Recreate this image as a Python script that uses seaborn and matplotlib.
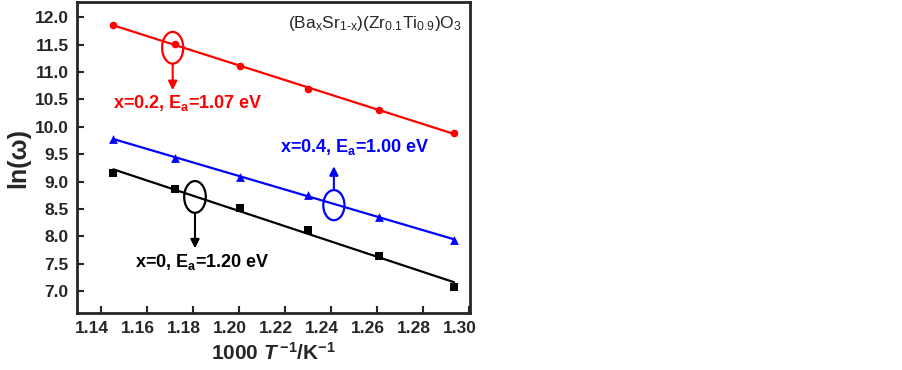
import numpy as np
import pandas as pd
import seaborn as sns
import matplotlib
matplotlib.use("Agg")
import matplotlib.pyplot as plt
from matplotlib.patches import Ellipse
from matplotlib.transforms import ScaledTranslation

# measurement temperatures (K) -> 1000/T
temps = [873, 853, 833, 813, 793, 773]
inv_t = [1000.0 / t for t in temps]

ln_w_x0 = [9.15, 8.86, 8.51, 8.11, 7.65, 7.08]
ln_w_x02 = [11.86, 11.51, 11.105, 10.70, 10.30, 9.89]
ln_w_x04 = [9.78, 9.44, 9.09, 8.75, 8.35, 7.94]

labels = ["x=0, E$_{\\mathbf{a}}$=1.20 eV",
          "x=0.2, E$_{\\mathbf{a}}$=1.07 eV",
          "x=0.4, E$_{\\mathbf{a}}$=1.00 eV"]
colors = ["black", "red", "blue"]
markers = ["s", "o", "^"]
msizes = [30, 30, 40]

sns.set_style("ticks")
plt.rcParams["font.family"] = ["Liberation Sans", "DejaVu Sans"]
plt.rcParams["mathtext.fontset"] = "custom"
plt.rcParams["mathtext.rm"] = "Liberation Sans"
plt.rcParams["mathtext.it"] = "Liberation Sans:italic:bold"
plt.rcParams["mathtext.bf"] = "Liberation Sans:bold"
plt.rcParams["axes.unicode_minus"] = False

df = pd.DataFrame({"x": inv_t * 3,
                   "y": ln_w_x0 + ln_w_x02 + ln_w_x04,
                   "sample": sum([[l] * len(inv_t) for l in labels], [])})

fig = plt.figure(figsize=(9.03, 3.70), dpi=100)
ax = fig.add_axes([0.0853, 0.154, 0.4352, 0.8406])

for lab, c, m, ms in zip(labels, colors, markers, msizes):
    sub = df[df["sample"] == lab]
    sns.regplot(data=sub, x="x", y="y", ax=ax, ci=None, color=c, marker=m,
                scatter_kws={"s": ms, "linewidths": 0, "alpha": 1},
                line_kws={"lw": 1.6})

ax.set_xlim(1.1297, 1.3006)
ax.set_ylim(6.6, 12.28)
ax.set_xticks(np.arange(1.14, 1.301, 0.02))
ax.set_yticks(np.arange(7.0, 12.01, 0.5))
ax.set_xticklabels([f"{v:.2f}" for v in np.arange(1.14, 1.301, 0.02)])
ax.set_yticklabels([f"{v:.1f}" for v in np.arange(7.0, 12.01, 0.5)])
ax.tick_params(direction="in", length=5, width=1.5, labelsize=12.5, pad=6)
for lbl in ax.get_xticklabels() + ax.get_yticklabels():
    lbl.set_fontweight("bold")
for lbl in ax.get_xticklabels():
    lbl.set_transform(lbl.get_transform() + ScaledTranslation(-0.09, 0, fig.dpi_scale_trans))
for s in ax.spines.values():
    s.set_linewidth(2)
    s.set_visible(True)

ax.set_xlabel("1000 $\\mathit{T}^{\\,\\mathbf{-1}}$/K$^{\\mathbf{-1}}$",
              fontsize=15, fontweight="bold", labelpad=4)
ax.set_ylabel("ln(ω)", fontsize=18, fontweight="bold", labelpad=3)

# ellipse + arrow annotations
ann = [  # (cx, cy, w, h, arrow from y, arrow to y, color)
    (1.1713, 11.444, 0.0092, 0.58, 11.15, 10.67, "red"),
    (1.2414, 8.57, 0.0092, 0.55, 8.85, 9.28, "blue"),
    (1.1810, 8.72, 0.0094, 0.58, 8.43, 7.78, "black"),
]
for cx, cy, w, h, y0, y1, c in ann:
    ax.add_patch(Ellipse((cx, cy), w, h, fill=False, ec=c, lw=1.6))
    ax.annotate("", xy=(cx, y1), xytext=(cx, y0),
                arrowprops=dict(arrowstyle="-|>", color=c, lw=1.5,
                                mutation_scale=13, shrinkA=0, shrinkB=0))

ax.text(1.1452, 10.43, labels[1], color="red", fontsize=13, fontweight="bold", va="center")
ax.text(1.2180, 9.63, labels[2], color="blue", fontsize=13, fontweight="bold", va="center")
ax.text(1.1549, 7.53, labels[0], color="black", fontsize=13, fontweight="bold", va="center")
ax.text(1.2970, 11.88, "$\\mathregular{(Ba_xSr_{1\\text{-}x})(Zr_{0.1}Ti_{0.9})O_3}$",
        fontsize=12.5, ha="right", va="center")

fig.savefig("out.png", dpi=100)
